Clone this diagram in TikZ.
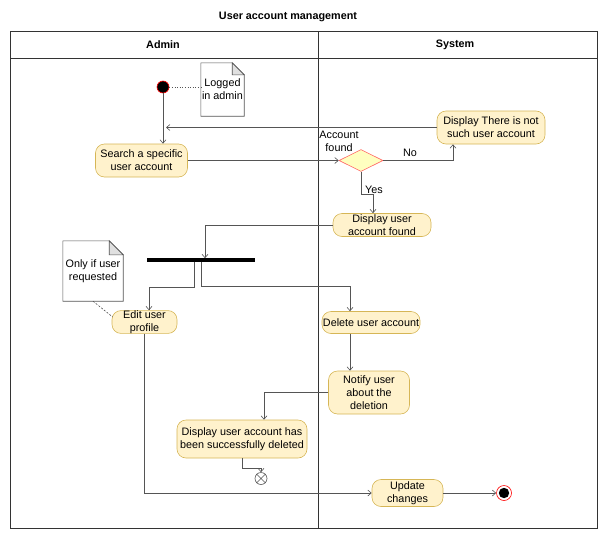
\documentclass[tikz,border=0pt]{standalone}
\usepackage{fontspec}
\setmainfont{Liberation Sans}
\usetikzlibrary{arrows.meta,shapes.geometric,calc}
\definecolor{actfill}{HTML}{FFF2CC}
\definecolor{actdraw}{HTML}{D6B656}
\definecolor{decfill}{HTML}{FFFFC0}
\definecolor{decdraw}{HTML}{FF6666}
\definecolor{edge}{HTML}{555555}
\definecolor{frame}{HTML}{333333}
\begin{document}
\begin{tikzpicture}[x=1pt,y=-1pt,
 every node/.style={font=\fontsize{10.8}{12.8}\selectfont},
 act/.style={draw=actdraw, fill=actfill, rounded corners=9pt, align=center, inner sep=0pt, line width=0.6pt},
 flow/.style={draw=edge, line width=0.6pt, -{Straight Barb[length=3.5pt,width=6pt]}},
 plain/.style={draw=edge, line width=0.6pt},
 notebox/.style={inner sep=0pt, align=center},
 lbl/.style={inner sep=1pt, align=center},
 hdr/.style={font=\bfseries\fontsize{10.8}{12.8}\selectfont}]
\useasboundingbox (0,0) rectangle (604,538);
% title and lanes
\node[hdr] (title) at (288,17) {User account management};
\draw[frame, line width=0.7pt] (10,31) rectangle (597,528);
\draw[frame, line width=0.7pt] (10,58) -- (597,58);
\draw[frame, line width=0.7pt] (318,31) -- (318,528);
\node[hdr] (admin) at (163,44.5) {Admin};
\node[hdr] (system) at (455,44.5) {System};
% initial
\node[circle, fill=black, draw=red, line width=0.6pt, minimum size=12pt, inner sep=0pt] (init) at (163,87) {};
% note 1
\node[notebox, minimum width=43pt, minimum height=53pt] (n1) at (222.5,89.5) {};
\draw[plain, fill=white] (n1.north west) -- ($(n1.north east)+(-12,0)$) -- ($(n1.north east)+(0,12)$) -- (n1.south east) -- (n1.south west) -- cycle;
\draw[plain, fill=black!12] ($(n1.north east)+(-12,0)$) -- ($(n1.north east)+(-12,12)$) -- ($(n1.north east)+(0,12)$) -- cycle;
\node[notebox] at (n1) {Logged\\in admin};
\draw[plain, dotted] (init) -- (init -| n1.west);
% activities
\node[act, minimum width=92pt, minimum height=33pt] (search) at (141.5,160.5) {Search a specific\\user account};
\node[diamond, draw=decdraw, fill=decfill, line width=0.6pt, minimum width=44pt, minimum height=22pt, inner sep=0pt] (dec) at (361,160.5) {};
\node[lbl] (declbl) at (339,141.5) {Account\\found};
\node[act, minimum width=108pt, minimum height=33pt] (notsuch) at (491,127.5) {Display There is not\\such user account};
\node[act, minimum width=98pt, minimum height=23pt] (found) at (382,225) {Display user\\account found};
\node[fill=black, inner sep=0pt, minimum width=108pt, minimum height=3.2pt] (bar) at (201,260) {};
\node[act, minimum width=65pt, minimum height=22pt] (edit) at (144.5,322) {Edit user\\profile};
\node[act, minimum width=98pt, minimum height=22pt] (del) at (371,322.5) {Delete user account};
\node[act, minimum width=81pt, minimum height=43pt] (notify) at (369,392.5) {Notify user\\about the\\deletion};
\node[act, minimum width=130pt, minimum height=38pt] (deleted) at (242,439) {Display user account has\\been successfully deleted};
\node[act, minimum width=71pt, minimum height=27pt] (update) at (407.5,493) {Update\\changes};
% note 2
\node[notebox, minimum width=60pt, minimum height=60pt] (n2) at (93,271) {};
\draw[plain, fill=white] (n2.north west) -- ($(n2.north east)+(-14,0)$) -- ($(n2.north east)+(0,14)$) -- (n2.south east) -- (n2.south west) -- cycle;
\draw[plain, fill=black!12] ($(n2.north east)+(-14,0)$) -- ($(n2.north east)+(-14,14)$) -- ($(n2.north east)+(0,14)$) -- cycle;
\node[notebox] at (n2) {Only if user\\requested};
\draw[plain, dashed, dash pattern=on 2pt off 1.5pt] (n2.south) -- ($(edit.west)+(1,-5)$);
% final nodes
\node[circle, draw=edge, fill=white, line width=0.6pt, minimum size=12pt, inner sep=0pt] (ff) at (261,478.5) {};
\draw[plain] (ff.north west) -- (ff.south east) (ff.north east) -- (ff.south west);
\node[circle, draw=red, fill=white, line width=0.6pt, minimum size=15pt, inner sep=0pt] (final) at (504,493) {};
\fill[black] (final.center) circle (5.2);
% connectors
\draw[flow] (init) -- (init |- search.north);
\coordinate (ret) at (166,127.5);
\draw[flow] (notsuch.west) -- (ret);
\draw[flow] (search.east) -- (dec.west);
\draw[flow] (dec.east) -| ($(notsuch.south)+(-38,0)$);
\node[lbl] (nolbl) at (410,153) {No};
\draw[flow] (dec.south) -- ++(0,22) -| ($(found.north)+(-9,0)$);
\node[lbl] (yeslbl) at (374,190) {Yes};
\draw[flow] (found.west) -| ($(bar.north)+(4,0)$);
\draw[flow] ($(bar.south)+(-7,0)$) -- ++(0,25) -| ($(edit.north)+(4.5,0)$);
\draw[flow] ($(bar.south)+(0,0)$) -- ++(0,24) -| ($(del.north)+(-21,0)$);
\draw[flow] ($(del.south)+(-21,0)$) -- ($(notify.north)+(-19,0)$);
\draw[flow] (notify.west) -| ($(deleted.north)+(22,0)$);
\draw[flow] (deleted.south) -- ++(0,10) -| (ff.north);
\draw[flow] (edit.south) |- (update.west);
\draw[flow] (update.east) -- (final.west);
\end{tikzpicture}
\end{document}
